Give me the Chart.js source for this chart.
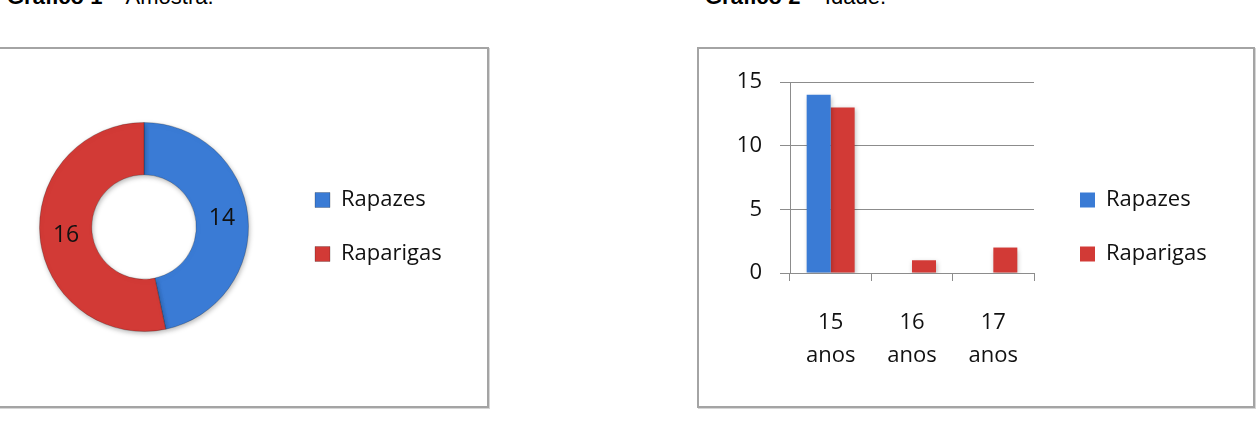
<!DOCTYPE html>
<html lang="pt">
<head>
<meta charset="utf-8">
<script src="https://cdn.jsdelivr.net/npm/chart.js@4.4.1/dist/chart.umd.min.js"></script>
<style>
  html, body { margin: 0; padding: 0; background: #fff; }
  body { position: relative; width: 1260px; height: 424px; overflow: hidden; font-family: "Liberation Sans", Arial, sans-serif; }
  .titulo { position: absolute; top: -14px; font-size: 22px; line-height: 22px; color: #000; white-space: nowrap; }
  .caixa { position: absolute; box-sizing: border-box; border: 2px solid #a4a4a4; box-shadow: 1px 1px 0 #d6d6d6; }
  canvas { position: absolute; }
</style>
</head>
<body>
<div class="titulo" style="left:7px"><b>Gráfico 1</b> – Amostra.</div>
<div class="titulo" style="left:705px"><b>Gráfico 2</b> – Idade.</div>

<div class="caixa" style="left:-10px; top:47px; width:499px; height:361px"></div>
<div class="caixa" style="left:697px; top:47px; width:558px; height:361px"></div>

<canvas id="graficoAmostra" width="487" height="356" style="left:0; top:49px; width:487px; height:356px"></canvas>
<canvas id="graficoIdade" width="553" height="356" style="left:699px; top:49px; width:553px; height:356px"></canvas>

<script>
// dados
const sexos = ['Rapazes', 'Raparigas'];
const amostra = [14, 16];
const idades = [['15', 'anos'], ['16', 'anos'], ['17', 'anos']];
const rapazesIdade = [14, 0, 0];
const raparigasIdade = [13, 1, 2];
const ticksY = [0, 5, 10, 15];

const azul = '#3a7bd5';
const vermelho = '#d23a36';
const corEixo = '#8c8c8c';
const corTexto = '#111';

Chart.defaults.font.family = '"Open Sans", "Noto Sans", sans-serif';
Chart.defaults.font.size = 22;
Chart.defaults.color = corTexto;
Chart.defaults.animation = false;

// sombra leve por baixo das formas
const sombra = {
    id: 'sombra',
    beforeDatasetsDraw(chart) {
        const c = chart.ctx;
        c.save();
        c.shadowColor = 'rgba(0,0,0,0.28)';
        c.shadowBlur = 5;
        c.shadowOffsetX = 1;
        c.shadowOffsetY = 2;
    },
    afterDatasetsDraw(chart) { chart.ctx.restore(); }
};

// valores dentro do anel
const rotulosAnel = {
    id: 'rotulosAnel',
    afterDatasetsDraw(chart) {
        const ctx = chart.ctx;
        const meta = chart.getDatasetMeta(0);
        ctx.save();
        ctx.font = '23px "Open Sans", sans-serif';
        ctx.fillStyle = corTexto;
        ctx.textAlign = 'center';
        ctx.textBaseline = 'middle';
        meta.data.forEach((arc, i) => {
            const p = arc.tooltipPosition();
            ctx.fillText(String(chart.data.datasets[0].data[i]), p.x, p.y);
        });
        ctx.restore();
    }
};

const legendaComum = {
    position: 'right',
    align: 'center',
    maxWidth: 160,
    labels: { boxWidth: 15, boxHeight: 15, padding: 32, font: { size: 22 }, color: corTexto }
};

new Chart(document.getElementById('graficoAmostra'), {
    type: 'doughnut',
    data: {
        labels: sexos,
        datasets: [{
            data: amostra,
            backgroundColor: [azul, vermelho],
            borderColor: 'rgba(0,0,0,0.22)',
            borderWidth: 1
        }]
    },
    options: {
        responsive: false,
        cutout: '50%',
        layout: { padding: { left: 5, right: 44, top: 73, bottom: 73 } },
        plugins: { legend: legendaComum, tooltip: { enabled: false } }
    },
    plugins: [sombra, rotulosAnel]
});

new Chart(document.getElementById('graficoIdade'), {
    type: 'bar',
    data: {
        labels: idades,
        datasets: [
            { label: sexos[0], data: rapazesIdade, backgroundColor: azul, borderWidth: 0 },
            { label: sexos[1], data: raparigasIdade, backgroundColor: vermelho, borderWidth: 0 }
        ]
    },
    options: {
        responsive: false,
        categoryPercentage: 0.59,
        barPercentage: 1,
        layout: { padding: { left: 38, right: 44, top: 33, bottom: 33 } },
        plugins: { legend: legendaComum, tooltip: { enabled: false } },
        scales: {
            x: {
                offset: true,
                grid: { drawOnChartArea: false, tickLength: 8, color: corEixo, offset: true },
                border: { color: corEixo },
                ticks: { padding: 25, font: { size: 22, lineHeight: 1.5 }, color: corTexto, maxRotation: 0, autoSkip: false },
                afterFit(s) { s.height = 99; }
            },
            y: {
                min: ticksY[0],
                max: ticksY[ticksY.length - 1],
                afterBuildTicks(s) { s.ticks = ticksY.map(v => ({ value: v })); },
                ticks: { padding: 18, font: { size: 22 }, color: corTexto },
                grid: { color: corEixo, tickLength: 10 },
                border: { color: corEixo },
                afterFit(s) { s.width = 53; }
            },
            // espaço entre a área do gráfico e a legenda
            folga: {
                position: 'right',
                display: true,
                grid: { display: false },
                ticks: { display: false },
                border: { display: false },
                afterFit(s) { s.width = 14; }
            }
        }
    },
    plugins: [sombra]
});
</script>
</body>
</html>
